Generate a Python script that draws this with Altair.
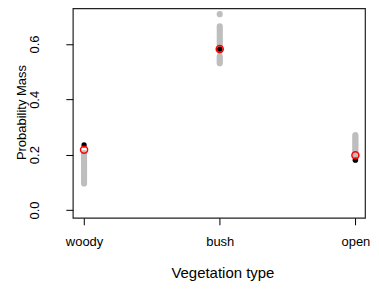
import altair as alt
import pandas as pd

categories = ["woody", "bush", "open"]
cat_pos = [1, 2, 3]

woody_gray = [0.096, 0.101, 0.107, 0.112, 0.118, 0.123, 0.129, 0.134, 0.140, 0.146,
              0.151, 0.157, 0.162, 0.168, 0.173, 0.179, 0.185, 0.190, 0.196, 0.201, 0.206]
bush_gray = [0.531, 0.537, 0.543, 0.549, 0.555, 0.574, 0.580, 0.589, 0.598, 0.607,
             0.615, 0.624, 0.633, 0.641, 0.649, 0.657, 0.664, 0.708]
open_gray = [0.182, 0.188, 0.194, 0.200, 0.206, 0.212, 0.218, 0.224, 0.230, 0.236,
             0.242, 0.248, 0.254, 0.260, 0.266, 0.271]

black_vals = [0.235, 0.582, 0.180]
red_vals = [0.218, 0.582, 0.198]

gray_rows = []
for pos, vals in zip(cat_pos, [woody_gray, bush_gray, open_gray]):
    for v in vals:
        gray_rows.append({"x": pos, "y": v})
gray_df = pd.DataFrame(gray_rows)
black_df = pd.DataFrame({"x": cat_pos, "y": black_vals})
red_df = pd.DataFrame({"x": cat_pos, "y": red_vals})

label_expr = "datum.value == 1 ? 'woody' : datum.value == 2 ? 'bush' : 'open'"

xenc = alt.X("x:Q",
             scale=alt.Scale(domain=[0.917, 3.071], nice=False, zero=False),
             axis=alt.Axis(values=cat_pos, labelExpr=label_expr, title="Vegetation type",
                           grid=False, domain=False, tickColor="black", tickSize=7,
                           labelFontSize=13, labelPadding=11, labelColor="black",
                           titleFontSize=15, titleFontWeight="normal",
                           titleX=150, titleY=60, titleBaseline="alphabetic",
                           titleAlign="center",
                           titleColor="black", labelFont="Liberation Sans",
                           titleFont="Liberation Sans"))
yenc = alt.Y("y:Q",
             scale=alt.Scale(domain=[-0.0284, 0.729], nice=False, zero=False),
             axis=alt.Axis(values=[0, 0.1, 0.2, 0.3, 0.4, 0.5, 0.6, 0.7],
                           labelExpr="round(datum.value*10) % 2 == 0 ? format(datum.value, '.1f') : ''",
                           title="Probability Mass", grid=False, domain=False,
                           tickColor="black", tickSize=7, labelAngle=270,
                           labelAlign="center", labelBaseline="bottom",
                           labelFontSize=13, labelPadding=24, labelColor="black",
                           titleFontSize=13, titleFontWeight="normal",
                           titleAngle=270, titleX=-47, titleY=104,
                           titleAlign="center", titleBaseline="alphabetic",
                           titleColor="black", labelFont="Liberation Sans",
                           titleFont="Liberation Sans"))

gray = alt.Chart(gray_df).mark_circle(size=38, color="#BEBEBE", opacity=1).encode(x=xenc, y=yenc)
black = alt.Chart(black_df).mark_circle(size=28, color="black", opacity=1).encode(x="x:Q", y="y:Q")
red = alt.Chart(red_df).mark_point(shape="circle", size=50, color="red", filled=False,
                                   strokeWidth=1.5, opacity=1).encode(x="x:Q", y="y:Q")

chart = alt.layer(gray, black, red).properties(
    width=293, height=210,
    background="white",
    autosize=alt.AutoSizeParams(type="none"),
    padding={"left": 65, "top": 0, "right": 6, "bottom": 65},
).configure_view(stroke="#222222", strokeWidth=1.2)

chart.save("out.html", embed_options={"renderer": "svg", "actions": False})
